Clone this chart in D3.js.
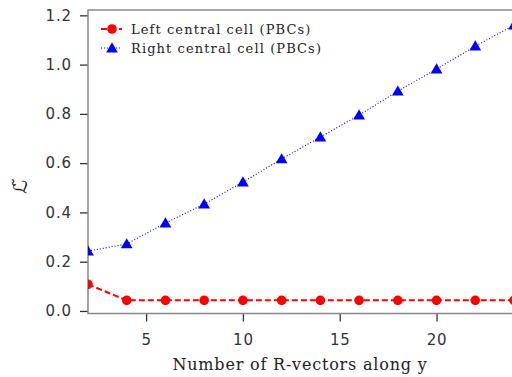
<!DOCTYPE html>
<html><head><meta charset="utf-8">
<script src="https://cdn.jsdelivr.net/npm/d3@7"></script>
<style>body{margin:0;background:#fff}svg{display:block}</style>
</head><body>
<svg id="c" width="512" height="377"></svg>
<script>
const xValues = [2,4,6,8,10,12,14,16,18,20,22,24];
const leftCell = [0.108,0.043,0.043,0.043,0.043,0.043,0.043,0.043,0.043,0.043,0.043,0.043];
const rightCell = [0.243,0.272,0.357,0.434,0.523,0.617,0.706,0.795,0.892,0.982,1.075,1.16];
const xTicks = [5,10,15,20];
const yTicks = [0.0,0.2,0.4,0.6,0.8,1.0,1.2];
const seriesNames = ["Left central cell (PBCs)","Right central cell (PBCs)"];

const svg = d3.select("#c");
const L=88, R=514, T=10, B=313.5;
const x = d3.scaleLinear().domain([2,24]).range([L,R]);
const y = d3.scaleLinear().domain([-0.0103,1.2217]).range([B,T]);

svg.append("defs").append("clipPath").attr("id","clip")
  .append("rect").attr("x",L).attr("y",T).attr("width",R-L).attr("height",B-T);

// axes
const xa = svg.append("g").attr("transform",`translate(0,${B})`)
  .call(d3.axisBottom(x).tickValues(xTicks).tickSize(8).tickPadding(13).tickFormat(d3.format("d")));
const ya = svg.append("g").attr("transform",`translate(${L},0)`)
  .call(d3.axisLeft(y).tickValues(yTicks).tickSize(8).tickPadding(9).tickFormat(d3.format(".1f")));
[xa,ya].forEach(a=>{
  a.select(".domain").remove();
  a.selectAll(".tick line").attr("stroke","#333").attr("stroke-width",1.3);
  a.selectAll(".tick text").attr("fill","#333").style("font-family","DejaVu Sans")
    .style("font-size","15px").style("letter-spacing","0.8px");
});
ya.selectAll(".tick text").attr("dx","0.8");
// spines
svg.append("rect").attr("x",L).attr("y",T).attr("width",R-L).attr("height",B-T)
  .attr("fill","none").attr("stroke","#888").attr("stroke-width",1.5);

const g = svg.append("g").attr("clip-path","url(#clip)");
const line = d3.line().x((d,i)=>x(xValues[i])).y(d=>y(d));

g.append("path").datum(leftCell).attr("d",line).attr("fill","none")
  .attr("stroke","red").attr("stroke-width",2).attr("stroke-dasharray","6,3");
g.append("path").datum(rightCell).attr("d",line).attr("fill","none")
  .attr("stroke","blue").attr("stroke-width",1.1).attr("stroke-dasharray","1,2");

const tri = d3.symbol().type(d3.symbolTriangle).size(60);
g.selectAll(".c").data(leftCell).enter().append("circle")
  .attr("cx",(d,i)=>x(xValues[i])).attr("cy",d=>y(d)).attr("r",4.8).attr("fill","red");
g.selectAll(".t").data(rightCell).enter().append("path")
  .attr("d",tri).attr("fill","blue")
  .attr("transform",(d,i)=>`translate(${x(xValues[i])},${y(d)+1})`);

// legend
const leg = svg.append("g");
const ly = [29,48];
leg.append("line").attr("x1",101).attr("x2",122).attr("y1",ly[0]).attr("y2",ly[0])
  .attr("stroke","red").attr("stroke-width",2).attr("stroke-dasharray","6,3");
leg.append("circle").attr("cx",112).attr("cy",ly[0]).attr("r",4.8).attr("fill","red");
leg.append("line").attr("x1",101).attr("x2",122).attr("y1",ly[1]).attr("y2",ly[1])
  .attr("stroke","blue").attr("stroke-width",1.1).attr("stroke-dasharray","1,2");
leg.append("path").attr("d",tri).attr("fill","blue").attr("transform",`translate(112,${ly[1]+1})`);
seriesNames.forEach((s,i)=>{
  leg.append("text").attr("x",131).attr("y",ly[i]+4.5).text(s)
    .style("font-family","DejaVu Serif").style("font-size","13px").style("letter-spacing","1.1px").attr("fill","#222");
});

// axis labels
svg.append("text").attr("x",300).attr("y",370).attr("text-anchor","middle")
  .text("Number of R-vectors along y").style("font-family","DejaVu Serif").style("font-size","16px")
  .style("letter-spacing","0.8px").attr("fill","#222");
svg.append("text").attr("transform","translate(27,187) rotate(-90)").attr("text-anchor","middle")
  .text("ℒ̃").style("font-family","DejaVu Sans").style("font-style","italic").style("font-size","19px").attr("fill","#222");
</script>
</body></html>
